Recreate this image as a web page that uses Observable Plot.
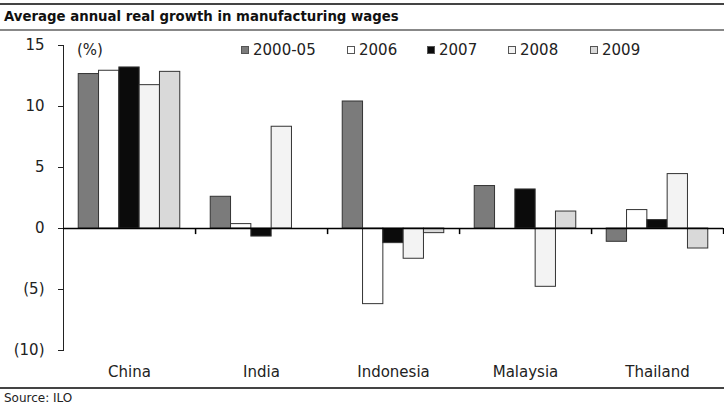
<!DOCTYPE html>
<html>
<head>
<meta charset="utf-8">
<script src="https://cdn.jsdelivr.net/npm/d3@7"></script>
<script src="https://cdn.jsdelivr.net/npm/@observablehq/plot@0.6"></script>
<style>
  html, body { margin: 0; padding: 0; background: #fff; }
  #wrap { position: relative; width: 724px; height: 409px; font-family: "DejaVu Sans", Verdana, sans-serif; color: #222; overflow: hidden; }
  #topline { position: absolute; left: 0; top: 3px; width: 724px; height: 2px; background: #444; }
  #title { position: absolute; left: 4px; top: 9px; font-weight: bold; font-size: 13.3px; color: #111; white-space: nowrap; }
  #titleline { position: absolute; left: 0; top: 29px; width: 724px; height: 2px; background: #888; }
  #chart { position: absolute; left: 0; top: 32px; }
  #legend { position: absolute; top: 41px; left: 0; height: 17px; }
  .item { position: absolute; top: 0; height: 17px; display: flex; align-items: center; font-size: 15px; white-space: nowrap; }
  .sw { width: 8px; height: 8px; border: 1px solid #555; box-sizing: border-box; margin-right: 4px; }
  #pct { position: absolute; left: 77px; top: 41px; font-size: 15px; }
  #botline { position: absolute; left: 0; top: 387px; width: 724px; height: 2px; background: #444; }
  #source { position: absolute; left: 4px; top: 391px; font-size: 12px; }
</style>
</head>
<body>
<div id="wrap">
  <div id="topline"></div>
  <div id="title">Average annual real growth in manufacturing wages</div>
  <div id="titleline"></div>
  <div id="chart"></div>
  <div id="pct">(%)</div>
  <div id="legend"></div>
  <div id="botline"></div>
  <div id="source">Source: ILO</div>
</div>
<script>
const countries = ["China", "India", "Indonesia", "Malaysia", "Thailand"];
const series = ["2000-05", "2006", "2007", "2008", "2009"];
const v2000_05 = [12.66, 2.6, 10.41, 3.48, -1.09];
const v2006 = [12.93, 0.36, -6.2, null, 1.51];
const v2007 = [13.2, -0.66, -1.2, 3.2, 0.69];
const v2008 = [11.75, 8.34, -2.48, -4.78, 4.46];
const v2009 = [12.84, null, -0.38, 1.39, -1.64];
const colors = ["#7b7b7b", "#ffffff", "#0b0b0b", "#f3f3f3", "#d9d9d9"];
const yTicks = [-10, -5, 0, 5, 10, 15];
const legendX = [241, 347, 427, 508, 590];

const seriesValues = [v2000_05, v2006, v2007, v2008, v2009];
const data = [];
countries.forEach((c, i) => {
  series.forEach((s, j) => {
    const v = seriesValues[j][i];
    if (v != null) data.push({country: c, series: s, value: v});
  });
});

const W = 724, H = 355, mL = 62, mR = 0;
const facetW = (W - mL - mR) / countries.length;
const padOuter = 0.75;
const step = facetW / (series.length + 2 * padOuter);

const chart = Plot.plot({
  width: W,
  height: H,
  marginLeft: mL,
  marginRight: mR,
  marginTop: 13,
  marginBottom: 37,
  style: {fontFamily: "DejaVu Sans, Verdana, sans-serif", fontSize: "15px", color: "#222", background: "#fff"},
  fx: {domain: countries, padding: 0, label: null, tickSize: 0, tickPadding: 16, axis: "bottom"},
  x: {domain: series, paddingInner: 0, paddingOuter: padOuter, axis: null, round: false},
  y: {domain: [-10, 15], ticks: yTicks, tickSize: 5, tickPadding: 14, line: true, label: null,
      tickFormat: d => d < 0 ? `(${-d})` : `${d}`},
  color: {domain: series, range: colors},
  marks: [
    Plot.barY(data, {fx: "country", x: "series", y: "value", fill: "series", stroke: "#333", strokeWidth: 1}),
    Plot.ruleY([0], {stroke: "#000", strokeWidth: 1.5}),
    Plot.ruleX(countries, {fx: d => d, x: () => series[series.length - 1], y1: 0, y2: -0.5, dx: (0.5 + padOuter) * step, stroke: "#000", strokeWidth: 1.5})
  ]
});
document.getElementById("chart").appendChild(chart);

const legend = document.getElementById("legend");
series.forEach((s, j) => {
  const item = document.createElement("div");
  item.className = "item";
  item.style.left = legendX[j] + "px";
  const sw = document.createElement("div");
  sw.className = "sw";
  sw.style.background = colors[j];
  const t = document.createElement("span");
  t.textContent = s;
  item.appendChild(sw);
  item.appendChild(t);
  legend.appendChild(item);
});
</script>
</body>
</html>
